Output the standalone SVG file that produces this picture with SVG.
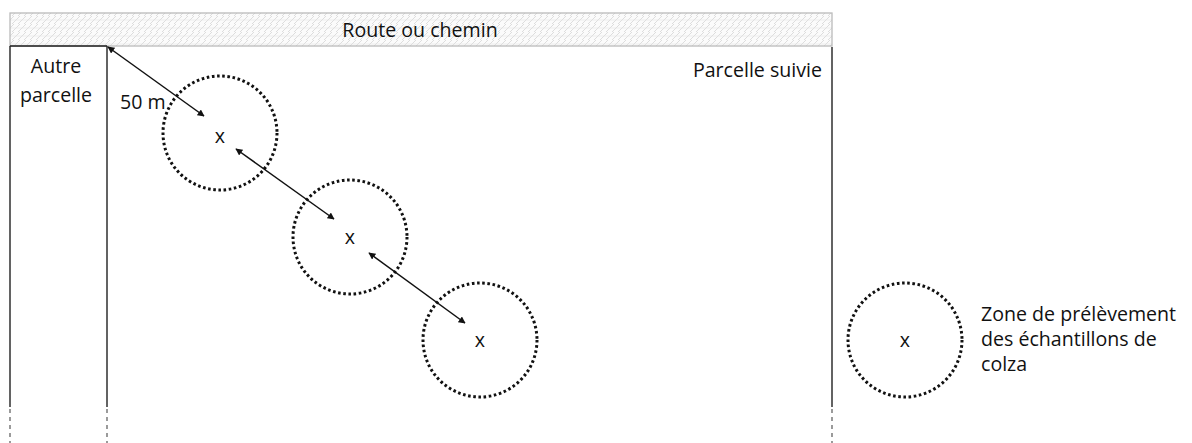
<svg xmlns="http://www.w3.org/2000/svg" width="1192" height="443" viewBox="0 0 1192 443">
<style>
text{font-family:"Open Sans","Liberation Sans",sans-serif;font-size:19.6px;fill:#111}
.zone{fill:none;stroke:#111;stroke-width:3;stroke-dasharray:2.6 2.6}
.solid{stroke:#222;stroke-width:1.4;fill:none}
.dash{stroke:#666;stroke-width:1.3;stroke-dasharray:4 4}
.arr{stroke:#111;stroke-width:1.5;marker-start:url(#ah);marker-end:url(#ah)}
</style>
<defs>
<pattern id="hatch" width="12" height="8" patternUnits="userSpaceOnUse">
<rect width="12" height="8" fill="#fbfbfb"/>
<path d="M0 8 L8 0 M6 8 L14 0 M-6 8 L2 0" stroke="#d6d6d6" stroke-width="0.8" fill="none"/>
<path d="M0 4 H12" stroke="#e4e4e4" stroke-width="0.6"/>
</pattern>
<marker id="ah" viewBox="0 0 10 10" refX="9" refY="5" markerWidth="7" markerHeight="7" orient="auto-start-reverse" markerUnits="userSpaceOnUse">
<path d="M0 0 L10 5 L0 10 z" fill="#111"/>
</marker>
</defs>
<g id="route">
<rect x="10" y="13" width="822" height="33" fill="url(#hatch)" stroke="#bbb" stroke-width="1.3"/>
<text x="420" y="37" text-anchor="middle">Route ou chemin</text>
</g>
<g id="parcelles">
<path class="solid" d="M10 46 H107 M10 46 V407 M107 46 V407 M832 47 V407"/>
<path class="dash" d="M10 409 V443 M107 409 V443 M832 409 V443"/>
<text x="56" y="73" text-anchor="middle">Autre</text>
<text x="56" y="102" text-anchor="middle">parcelle</text>
<text x="822" y="77" text-anchor="end">Parcelle suivie</text>
</g>
<g id="zone1"><circle class="zone" cx="220" cy="133" r="57"/><text x="220" y="143" text-anchor="middle">x</text></g>
<g id="zone2"><circle class="zone" cx="350" cy="237" r="57"/><text x="350" y="244" text-anchor="middle">x</text></g>
<g id="zone3"><circle class="zone" cx="480" cy="340" r="57"/><text x="480" y="347" text-anchor="middle">x</text></g>
<g id="legende"><circle class="zone" cx="905" cy="340" r="57"/><text x="905" y="347" text-anchor="middle">x</text>
<text x="981" y="321">Zone de prélèvement</text>
<text x="981" y="346">des échantillons de</text>
<text x="981" y="371">colza</text></g>
<g id="connecteurs">
<line class="arr" x1="108" y1="47" x2="204" y2="116"/>
<line class="arr" x1="236" y1="149" x2="334" y2="219"/>
<line class="arr" x1="369" y1="253" x2="465" y2="323"/>
<text x="120" y="109">50 m</text>
</g>
</svg>
